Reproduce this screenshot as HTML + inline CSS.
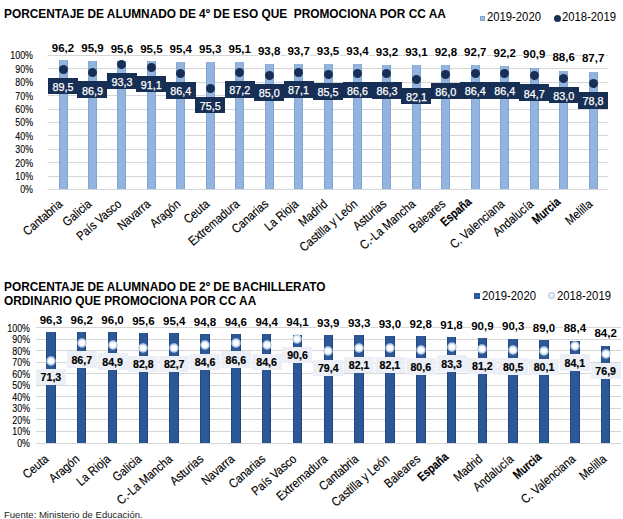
<!DOCTYPE html>
<html><head><meta charset="utf-8">
<style>
html,body{margin:0;padding:0;background:#fff;}
body{width:623px;height:519px;position:relative;overflow:hidden;font-family:"Liberation Sans",sans-serif;}
body div{position:absolute;}
.t{white-space:nowrap;}
.xl{font-size:12.6px;color:#000;-webkit-text-stroke:0.15px #000;text-align:right;transform-origin:100% 50%;transform:rotate(-41deg) scaleX(0.87);}
.ttl{font-weight:bold;font-size:12.6px;color:#000;white-space:nowrap;transform-origin:0 0;}
.leg{font-size:12px;color:#000;white-space:nowrap;transform-origin:0 50%;transform:scaleX(0.94);}
</style></head><body>
<div class="ttl" style="left:3.5px;top:7px;line-height:14px;transform:scaleX(0.942)">PORCENTAJE DE ALUMNADO DE 4º DE ESO QUE&nbsp; PROMOCIONA POR CC AA</div>
<div style="left:480.4px;top:15.5px;width:5px;height:5px;background:#9dbbe0;box-shadow:inset 0 0 0 0.8px #7e9fca"></div>
<div class="leg" style="left:487px;top:10px;line-height:14px">2019-2020</div>
<div style="left:553.7px;top:14.5px;width:7px;height:7px;border-radius:50%;background:#182f55"></div>
<div class="leg" style="left:562px;top:10px;line-height:14px">2018-2019</div>
<div class="ttl" style="left:3.5px;top:279.8px;line-height:14.5px;transform:scaleX(0.942)">PORCENTAJE DE ALUMNADO DE 2º DE BACHILLERATO<br>ORDINARIO QUE PROMOCIONA POR CC AA</div>
<div style="left:473.6px;top:293px;width:6px;height:6px;background:#2c5897"></div>
<div class="leg" style="left:482px;top:288.5px;line-height:14px">2019-2020</div>
<div style="left:547.6px;top:292.2px;width:7px;height:7px;border-radius:50%;background:#eef3f9;box-shadow:inset 0 0 0 1.3px #bfd0e8"></div>
<div class="leg" style="left:557px;top:288.5px;line-height:14px">2018-2019</div>
<div style="left:48.30px;top:188.90px;width:559.55px;height:1.00px;background:#d6d6d6"></div>
<div class="t" style="left:-27.30px;top:183.40px;width:60px;height:14px;line-height:14px;text-align:right;font-size:10.3px;color:#000;-webkit-text-stroke:0.1px #000;transform-origin:100% 50%;transform:scaleX(0.86)">0%</div>
<div style="left:48.30px;top:175.50px;width:559.55px;height:1.00px;background:#d6d6d6"></div>
<div class="t" style="left:-27.30px;top:170.00px;width:60px;height:14px;line-height:14px;text-align:right;font-size:10.3px;color:#000;-webkit-text-stroke:0.1px #000;transform-origin:100% 50%;transform:scaleX(0.86)">10%</div>
<div style="left:48.30px;top:162.10px;width:559.55px;height:1.00px;background:#d6d6d6"></div>
<div class="t" style="left:-27.30px;top:156.60px;width:60px;height:14px;line-height:14px;text-align:right;font-size:10.3px;color:#000;-webkit-text-stroke:0.1px #000;transform-origin:100% 50%;transform:scaleX(0.86)">20%</div>
<div style="left:48.30px;top:148.70px;width:559.55px;height:1.00px;background:#d6d6d6"></div>
<div class="t" style="left:-27.30px;top:143.20px;width:60px;height:14px;line-height:14px;text-align:right;font-size:10.3px;color:#000;-webkit-text-stroke:0.1px #000;transform-origin:100% 50%;transform:scaleX(0.86)">30%</div>
<div style="left:48.30px;top:135.30px;width:559.55px;height:1.00px;background:#d6d6d6"></div>
<div class="t" style="left:-27.30px;top:129.80px;width:60px;height:14px;line-height:14px;text-align:right;font-size:10.3px;color:#000;-webkit-text-stroke:0.1px #000;transform-origin:100% 50%;transform:scaleX(0.86)">40%</div>
<div style="left:48.30px;top:121.90px;width:559.55px;height:1.00px;background:#d6d6d6"></div>
<div class="t" style="left:-27.30px;top:116.40px;width:60px;height:14px;line-height:14px;text-align:right;font-size:10.3px;color:#000;-webkit-text-stroke:0.1px #000;transform-origin:100% 50%;transform:scaleX(0.86)">50%</div>
<div style="left:48.30px;top:108.50px;width:559.55px;height:1.00px;background:#d6d6d6"></div>
<div class="t" style="left:-27.30px;top:103.00px;width:60px;height:14px;line-height:14px;text-align:right;font-size:10.3px;color:#000;-webkit-text-stroke:0.1px #000;transform-origin:100% 50%;transform:scaleX(0.86)">60%</div>
<div style="left:48.30px;top:95.10px;width:559.55px;height:1.00px;background:#d6d6d6"></div>
<div class="t" style="left:-27.30px;top:89.60px;width:60px;height:14px;line-height:14px;text-align:right;font-size:10.3px;color:#000;-webkit-text-stroke:0.1px #000;transform-origin:100% 50%;transform:scaleX(0.86)">70%</div>
<div style="left:48.30px;top:81.70px;width:559.55px;height:1.00px;background:#d6d6d6"></div>
<div class="t" style="left:-27.30px;top:76.20px;width:60px;height:14px;line-height:14px;text-align:right;font-size:10.3px;color:#000;-webkit-text-stroke:0.1px #000;transform-origin:100% 50%;transform:scaleX(0.86)">80%</div>
<div style="left:48.30px;top:68.30px;width:559.55px;height:1.00px;background:#d6d6d6"></div>
<div class="t" style="left:-27.30px;top:62.80px;width:60px;height:14px;line-height:14px;text-align:right;font-size:10.3px;color:#000;-webkit-text-stroke:0.1px #000;transform-origin:100% 50%;transform:scaleX(0.86)">90%</div>
<div style="left:48.30px;top:54.90px;width:559.55px;height:1.00px;background:#d6d6d6"></div>
<div class="t" style="left:-27.30px;top:49.40px;width:60px;height:14px;line-height:14px;text-align:right;font-size:10.3px;color:#000;-webkit-text-stroke:0.1px #000;transform-origin:100% 50%;transform:scaleX(0.86)">100%</div>
<div style="left:58.52px;top:60.49px;width:9.00px;height:128.91px;background:#93b4de;box-shadow:inset 1px 0 0 #84a6d2,inset -1px 0 0 #84a6d2"></div>
<div style="left:87.97px;top:60.89px;width:9.00px;height:128.51px;background:#93b4de;box-shadow:inset 1px 0 0 #84a6d2,inset -1px 0 0 #84a6d2"></div>
<div style="left:117.42px;top:61.30px;width:9.00px;height:128.10px;background:#93b4de;box-shadow:inset 1px 0 0 #84a6d2,inset -1px 0 0 #84a6d2"></div>
<div style="left:146.88px;top:61.43px;width:9.00px;height:127.97px;background:#93b4de;box-shadow:inset 1px 0 0 #84a6d2,inset -1px 0 0 #84a6d2"></div>
<div style="left:176.32px;top:61.56px;width:9.00px;height:127.84px;background:#93b4de;box-shadow:inset 1px 0 0 #84a6d2,inset -1px 0 0 #84a6d2"></div>
<div style="left:205.77px;top:61.70px;width:9.00px;height:127.70px;background:#93b4de;box-shadow:inset 1px 0 0 #84a6d2,inset -1px 0 0 #84a6d2"></div>
<div style="left:235.22px;top:61.97px;width:9.00px;height:127.43px;background:#93b4de;box-shadow:inset 1px 0 0 #84a6d2,inset -1px 0 0 #84a6d2"></div>
<div style="left:264.68px;top:63.71px;width:9.00px;height:125.69px;background:#93b4de;box-shadow:inset 1px 0 0 #84a6d2,inset -1px 0 0 #84a6d2"></div>
<div style="left:294.12px;top:63.84px;width:9.00px;height:125.56px;background:#93b4de;box-shadow:inset 1px 0 0 #84a6d2,inset -1px 0 0 #84a6d2"></div>
<div style="left:323.57px;top:64.11px;width:9.00px;height:125.29px;background:#93b4de;box-shadow:inset 1px 0 0 #84a6d2,inset -1px 0 0 #84a6d2"></div>
<div style="left:353.02px;top:64.24px;width:9.00px;height:125.16px;background:#93b4de;box-shadow:inset 1px 0 0 #84a6d2,inset -1px 0 0 #84a6d2"></div>
<div style="left:382.48px;top:64.51px;width:9.00px;height:124.89px;background:#93b4de;box-shadow:inset 1px 0 0 #84a6d2,inset -1px 0 0 #84a6d2"></div>
<div style="left:411.93px;top:64.65px;width:9.00px;height:124.75px;background:#93b4de;box-shadow:inset 1px 0 0 #84a6d2,inset -1px 0 0 #84a6d2"></div>
<div style="left:441.38px;top:65.05px;width:9.00px;height:124.35px;background:#93b4de;box-shadow:inset 1px 0 0 #84a6d2,inset -1px 0 0 #84a6d2"></div>
<div style="left:470.82px;top:65.18px;width:9.00px;height:124.22px;background:#93b4de;box-shadow:inset 1px 0 0 #84a6d2,inset -1px 0 0 #84a6d2"></div>
<div style="left:500.27px;top:65.85px;width:9.00px;height:123.55px;background:#93b4de;box-shadow:inset 1px 0 0 #84a6d2,inset -1px 0 0 #84a6d2"></div>
<div style="left:529.73px;top:67.59px;width:9.00px;height:121.81px;background:#93b4de;box-shadow:inset 1px 0 0 #84a6d2,inset -1px 0 0 #84a6d2"></div>
<div style="left:559.17px;top:70.68px;width:9.00px;height:118.72px;background:#93b4de;box-shadow:inset 1px 0 0 #84a6d2,inset -1px 0 0 #84a6d2"></div>
<div style="left:588.62px;top:71.88px;width:9.00px;height:117.52px;background:#93b4de;box-shadow:inset 1px 0 0 #84a6d2,inset -1px 0 0 #84a6d2"></div>
<div style="left:51.52px;top:42.90px;width:23px;height:10px;background:#fff"></div>
<div class="t" style="left:33.02px;top:40.90px;width:60px;height:14px;line-height:14px;text-align:center;font-size:11.5px;font-weight:bold;color:#000">96,2</div>
<div style="left:58.52px;top:64.97px;width:9px;height:9px;border-radius:50%;background:#182f55"></div>
<div style="left:48.02px;top:77.97px;width:30.00px;height:16.50px;background:#182f55"></div>
<div class="t" style="left:33.02px;top:80.07px;width:60px;height:14px;line-height:14px;text-align:center;font-size:10.8px;color:#fff;-webkit-text-stroke:0.25px #fff">89,5</div>
<div style="left:80.97px;top:43.27px;width:23px;height:10px;background:#fff"></div>
<div class="t" style="left:62.47px;top:41.27px;width:60px;height:14px;line-height:14px;text-align:center;font-size:11.5px;font-weight:bold;color:#000">95,9</div>
<div style="left:87.97px;top:68.45px;width:9px;height:9px;border-radius:50%;background:#182f55"></div>
<div style="left:77.47px;top:81.45px;width:30.00px;height:16.50px;background:#182f55"></div>
<div class="t" style="left:62.47px;top:83.55px;width:60px;height:14px;line-height:14px;text-align:center;font-size:10.8px;color:#fff;-webkit-text-stroke:0.25px #fff">86,9</div>
<div style="left:110.42px;top:43.64px;width:23px;height:10px;background:#fff"></div>
<div class="t" style="left:91.92px;top:41.64px;width:60px;height:14px;line-height:14px;text-align:center;font-size:11.5px;font-weight:bold;color:#000">95,6</div>
<div style="left:117.42px;top:59.88px;width:9px;height:9px;border-radius:50%;background:#182f55"></div>
<div style="left:106.92px;top:72.88px;width:30.00px;height:16.50px;background:#182f55"></div>
<div class="t" style="left:91.92px;top:74.98px;width:60px;height:14px;line-height:14px;text-align:center;font-size:10.8px;color:#fff;-webkit-text-stroke:0.25px #fff">93,3</div>
<div style="left:139.88px;top:43.76px;width:23px;height:10px;background:#fff"></div>
<div class="t" style="left:121.38px;top:41.76px;width:60px;height:14px;line-height:14px;text-align:center;font-size:11.5px;font-weight:bold;color:#000">95,5</div>
<div style="left:146.88px;top:62.83px;width:9px;height:9px;border-radius:50%;background:#182f55"></div>
<div style="left:136.38px;top:75.83px;width:30.00px;height:16.50px;background:#182f55"></div>
<div class="t" style="left:121.38px;top:77.93px;width:60px;height:14px;line-height:14px;text-align:center;font-size:10.8px;color:#fff;-webkit-text-stroke:0.25px #fff">91,1</div>
<div style="left:169.32px;top:43.89px;width:23px;height:10px;background:#fff"></div>
<div class="t" style="left:150.82px;top:41.89px;width:60px;height:14px;line-height:14px;text-align:center;font-size:11.5px;font-weight:bold;color:#000">95,4</div>
<div style="left:176.32px;top:69.12px;width:9px;height:9px;border-radius:50%;background:#182f55"></div>
<div style="left:165.82px;top:82.12px;width:30.00px;height:16.50px;background:#182f55"></div>
<div class="t" style="left:150.82px;top:84.22px;width:60px;height:14px;line-height:14px;text-align:center;font-size:10.8px;color:#fff;-webkit-text-stroke:0.25px #fff">86,4</div>
<div style="left:198.77px;top:44.01px;width:23px;height:10px;background:#fff"></div>
<div class="t" style="left:180.27px;top:42.01px;width:60px;height:14px;line-height:14px;text-align:center;font-size:11.5px;font-weight:bold;color:#000">95,3</div>
<div style="left:205.77px;top:83.73px;width:9px;height:9px;border-radius:50%;background:#182f55"></div>
<div style="left:195.27px;top:96.73px;width:30.00px;height:16.50px;background:#182f55"></div>
<div class="t" style="left:180.27px;top:98.83px;width:60px;height:14px;line-height:14px;text-align:center;font-size:10.8px;color:#fff;-webkit-text-stroke:0.25px #fff">75,5</div>
<div style="left:228.22px;top:44.26px;width:23px;height:10px;background:#fff"></div>
<div class="t" style="left:209.72px;top:42.26px;width:60px;height:14px;line-height:14px;text-align:center;font-size:11.5px;font-weight:bold;color:#000">95,1</div>
<div style="left:235.22px;top:68.05px;width:9px;height:9px;border-radius:50%;background:#182f55"></div>
<div style="left:224.72px;top:81.05px;width:30.00px;height:16.50px;background:#182f55"></div>
<div class="t" style="left:209.72px;top:83.15px;width:60px;height:14px;line-height:14px;text-align:center;font-size:10.8px;color:#fff;-webkit-text-stroke:0.25px #fff">87,2</div>
<div style="left:257.68px;top:45.86px;width:23px;height:10px;background:#fff"></div>
<div class="t" style="left:239.18px;top:43.86px;width:60px;height:14px;line-height:14px;text-align:center;font-size:11.5px;font-weight:bold;color:#000">93,8</div>
<div style="left:264.68px;top:71.00px;width:9px;height:9px;border-radius:50%;background:#182f55"></div>
<div style="left:254.18px;top:84.00px;width:30.00px;height:16.50px;background:#182f55"></div>
<div class="t" style="left:239.18px;top:86.10px;width:60px;height:14px;line-height:14px;text-align:center;font-size:10.8px;color:#fff;-webkit-text-stroke:0.25px #fff">85,0</div>
<div style="left:287.12px;top:45.99px;width:23px;height:10px;background:#fff"></div>
<div class="t" style="left:268.62px;top:43.99px;width:60px;height:14px;line-height:14px;text-align:center;font-size:11.5px;font-weight:bold;color:#000">93,7</div>
<div style="left:294.12px;top:68.19px;width:9px;height:9px;border-radius:50%;background:#182f55"></div>
<div style="left:283.62px;top:81.19px;width:30.00px;height:16.50px;background:#182f55"></div>
<div class="t" style="left:268.62px;top:83.29px;width:60px;height:14px;line-height:14px;text-align:center;font-size:10.8px;color:#fff;-webkit-text-stroke:0.25px #fff">87,1</div>
<div style="left:316.57px;top:46.23px;width:23px;height:10px;background:#fff"></div>
<div class="t" style="left:298.07px;top:44.23px;width:60px;height:14px;line-height:14px;text-align:center;font-size:11.5px;font-weight:bold;color:#000">93,5</div>
<div style="left:323.57px;top:70.33px;width:9px;height:9px;border-radius:50%;background:#182f55"></div>
<div style="left:313.07px;top:83.33px;width:30.00px;height:16.50px;background:#182f55"></div>
<div class="t" style="left:298.07px;top:85.43px;width:60px;height:14px;line-height:14px;text-align:center;font-size:10.8px;color:#fff;-webkit-text-stroke:0.25px #fff">85,5</div>
<div style="left:346.02px;top:46.36px;width:23px;height:10px;background:#fff"></div>
<div class="t" style="left:327.52px;top:44.36px;width:60px;height:14px;line-height:14px;text-align:center;font-size:11.5px;font-weight:bold;color:#000">93,4</div>
<div style="left:353.02px;top:68.86px;width:9px;height:9px;border-radius:50%;background:#182f55"></div>
<div style="left:342.52px;top:81.86px;width:30.00px;height:16.50px;background:#182f55"></div>
<div class="t" style="left:327.52px;top:83.96px;width:60px;height:14px;line-height:14px;text-align:center;font-size:10.8px;color:#fff;-webkit-text-stroke:0.25px #fff">86,6</div>
<div style="left:375.48px;top:46.60px;width:23px;height:10px;background:#fff"></div>
<div class="t" style="left:356.98px;top:44.60px;width:60px;height:14px;line-height:14px;text-align:center;font-size:11.5px;font-weight:bold;color:#000">93,2</div>
<div style="left:382.48px;top:69.26px;width:9px;height:9px;border-radius:50%;background:#182f55"></div>
<div style="left:371.98px;top:82.26px;width:30.00px;height:16.50px;background:#182f55"></div>
<div class="t" style="left:356.98px;top:84.36px;width:60px;height:14px;line-height:14px;text-align:center;font-size:10.8px;color:#fff;-webkit-text-stroke:0.25px #fff">86,3</div>
<div style="left:404.93px;top:46.73px;width:23px;height:10px;background:#fff"></div>
<div class="t" style="left:386.43px;top:44.73px;width:60px;height:14px;line-height:14px;text-align:center;font-size:11.5px;font-weight:bold;color:#000">93,1</div>
<div style="left:411.93px;top:74.89px;width:9px;height:9px;border-radius:50%;background:#182f55"></div>
<div style="left:401.43px;top:87.89px;width:30.00px;height:16.50px;background:#182f55"></div>
<div class="t" style="left:386.43px;top:89.99px;width:60px;height:14px;line-height:14px;text-align:center;font-size:10.8px;color:#fff;-webkit-text-stroke:0.25px #fff">82,1</div>
<div style="left:434.38px;top:47.10px;width:23px;height:10px;background:#fff"></div>
<div class="t" style="left:415.88px;top:45.10px;width:60px;height:14px;line-height:14px;text-align:center;font-size:11.5px;font-weight:bold;color:#000">92,8</div>
<div style="left:441.38px;top:69.66px;width:9px;height:9px;border-radius:50%;background:#182f55"></div>
<div style="left:430.88px;top:82.66px;width:30.00px;height:16.50px;background:#182f55"></div>
<div class="t" style="left:415.88px;top:84.76px;width:60px;height:14px;line-height:14px;text-align:center;font-size:10.8px;color:#fff;-webkit-text-stroke:0.25px #fff">86,0</div>
<div style="left:463.82px;top:47.22px;width:23px;height:10px;background:#fff"></div>
<div class="t" style="left:445.32px;top:45.22px;width:60px;height:14px;line-height:14px;text-align:center;font-size:11.5px;font-weight:bold;color:#000">92,7</div>
<div style="left:470.82px;top:69.12px;width:9px;height:9px;border-radius:50%;background:#182f55"></div>
<div style="left:460.32px;top:82.12px;width:30.00px;height:16.50px;background:#182f55"></div>
<div class="t" style="left:445.32px;top:84.22px;width:60px;height:14px;line-height:14px;text-align:center;font-size:10.8px;color:#fff;-webkit-text-stroke:0.25px #fff">86,4</div>
<div style="left:493.27px;top:47.84px;width:23px;height:10px;background:#fff"></div>
<div class="t" style="left:474.77px;top:45.84px;width:60px;height:14px;line-height:14px;text-align:center;font-size:11.5px;font-weight:bold;color:#000">92,2</div>
<div style="left:500.27px;top:69.12px;width:9px;height:9px;border-radius:50%;background:#182f55"></div>
<div style="left:489.77px;top:82.12px;width:30.00px;height:16.50px;background:#182f55"></div>
<div class="t" style="left:474.77px;top:84.22px;width:60px;height:14px;line-height:14px;text-align:center;font-size:10.8px;color:#fff;-webkit-text-stroke:0.25px #fff">86,4</div>
<div style="left:522.73px;top:49.45px;width:23px;height:10px;background:#fff"></div>
<div class="t" style="left:504.23px;top:47.45px;width:60px;height:14px;line-height:14px;text-align:center;font-size:11.5px;font-weight:bold;color:#000">90,9</div>
<div style="left:529.73px;top:71.40px;width:9px;height:9px;border-radius:50%;background:#182f55"></div>
<div style="left:519.23px;top:84.40px;width:30.00px;height:16.50px;background:#182f55"></div>
<div class="t" style="left:504.23px;top:86.50px;width:60px;height:14px;line-height:14px;text-align:center;font-size:10.8px;color:#fff;-webkit-text-stroke:0.25px #fff">84,7</div>
<div style="left:552.17px;top:52.29px;width:23px;height:10px;background:#fff"></div>
<div class="t" style="left:533.67px;top:50.29px;width:60px;height:14px;line-height:14px;text-align:center;font-size:11.5px;font-weight:bold;color:#000">88,6</div>
<div style="left:559.17px;top:73.68px;width:9px;height:9px;border-radius:50%;background:#182f55"></div>
<div style="left:548.67px;top:86.68px;width:30.00px;height:16.50px;background:#182f55"></div>
<div class="t" style="left:533.67px;top:88.78px;width:60px;height:14px;line-height:14px;text-align:center;font-size:10.8px;color:#fff;-webkit-text-stroke:0.25px #fff">83,0</div>
<div style="left:581.62px;top:53.40px;width:23px;height:10px;background:#fff"></div>
<div class="t" style="left:563.12px;top:51.40px;width:60px;height:14px;line-height:14px;text-align:center;font-size:11.5px;font-weight:bold;color:#000">87,7</div>
<div style="left:588.62px;top:79.31px;width:9px;height:9px;border-radius:50%;background:#182f55"></div>
<div style="left:578.12px;top:92.31px;width:30.00px;height:16.50px;background:#182f55"></div>
<div class="t" style="left:563.12px;top:94.41px;width:60px;height:14px;line-height:14px;text-align:center;font-size:10.8px;color:#fff;-webkit-text-stroke:0.25px #fff">78,8</div>
<div class="t xl" style="left:-58.98px;top:195.60px;width:120px;height:13px;line-height:13px;">Cantabria</div>
<div class="t xl" style="left:-29.53px;top:195.60px;width:120px;height:13px;line-height:13px;">Galicia</div>
<div class="t xl" style="left:-0.08px;top:195.60px;width:120px;height:13px;line-height:13px;">País Vasco</div>
<div class="t xl" style="left:29.38px;top:195.60px;width:120px;height:13px;line-height:13px;">Navarra</div>
<div class="t xl" style="left:58.82px;top:195.60px;width:120px;height:13px;line-height:13px;">Aragón</div>
<div class="t xl" style="left:88.27px;top:195.60px;width:120px;height:13px;line-height:13px;">Ceuta</div>
<div class="t xl" style="left:117.72px;top:195.60px;width:120px;height:13px;line-height:13px;">Extremadura</div>
<div class="t xl" style="left:147.18px;top:195.60px;width:120px;height:13px;line-height:13px;">Canarias</div>
<div class="t xl" style="left:176.62px;top:195.60px;width:120px;height:13px;line-height:13px;">La Rioja</div>
<div class="t xl" style="left:206.07px;top:195.60px;width:120px;height:13px;line-height:13px;">Madrid</div>
<div class="t xl" style="left:235.52px;top:195.60px;width:120px;height:13px;line-height:13px;">Castilla y León</div>
<div class="t xl" style="left:264.98px;top:195.60px;width:120px;height:13px;line-height:13px;">Asturias</div>
<div class="t xl" style="left:294.43px;top:195.60px;width:120px;height:13px;line-height:13px;">C.-La Mancha</div>
<div class="t xl" style="left:323.88px;top:195.60px;width:120px;height:13px;line-height:13px;">Baleares</div>
<div class="t xl" style="left:350.32px;top:194.10px;width:120px;height:13px;line-height:13px;font-weight:bold;transform:rotate(-41deg) scaleX(0.81);">España</div>
<div class="t xl" style="left:382.77px;top:195.60px;width:120px;height:13px;line-height:13px;">C. Valenciana</div>
<div class="t xl" style="left:412.23px;top:195.60px;width:120px;height:13px;line-height:13px;">Andalucía</div>
<div class="t xl" style="left:438.67px;top:194.10px;width:120px;height:13px;line-height:13px;font-weight:bold;transform:rotate(-41deg) scaleX(0.81);">Murcia</div>
<div class="t xl" style="left:471.12px;top:195.60px;width:120px;height:13px;line-height:13px;">Melilla</div>
<div style="left:35.50px;top:442.50px;width:585.58px;height:1.00px;background:#d6d6d6"></div>
<div class="t" style="left:-30.50px;top:437.00px;width:60px;height:14px;line-height:14px;text-align:right;font-size:10.3px;color:#000;-webkit-text-stroke:0.1px #000;transform-origin:100% 50%;transform:scaleX(0.86)">0%</div>
<div style="left:35.50px;top:430.97px;width:585.58px;height:1.00px;background:#d6d6d6"></div>
<div class="t" style="left:-30.50px;top:425.47px;width:60px;height:14px;line-height:14px;text-align:right;font-size:10.3px;color:#000;-webkit-text-stroke:0.1px #000;transform-origin:100% 50%;transform:scaleX(0.86)">10%</div>
<div style="left:35.50px;top:419.44px;width:585.58px;height:1.00px;background:#d6d6d6"></div>
<div class="t" style="left:-30.50px;top:413.94px;width:60px;height:14px;line-height:14px;text-align:right;font-size:10.3px;color:#000;-webkit-text-stroke:0.1px #000;transform-origin:100% 50%;transform:scaleX(0.86)">20%</div>
<div style="left:35.50px;top:407.91px;width:585.58px;height:1.00px;background:#d6d6d6"></div>
<div class="t" style="left:-30.50px;top:402.41px;width:60px;height:14px;line-height:14px;text-align:right;font-size:10.3px;color:#000;-webkit-text-stroke:0.1px #000;transform-origin:100% 50%;transform:scaleX(0.86)">30%</div>
<div style="left:35.50px;top:396.38px;width:585.58px;height:1.00px;background:#d6d6d6"></div>
<div class="t" style="left:-30.50px;top:390.88px;width:60px;height:14px;line-height:14px;text-align:right;font-size:10.3px;color:#000;-webkit-text-stroke:0.1px #000;transform-origin:100% 50%;transform:scaleX(0.86)">40%</div>
<div style="left:35.50px;top:384.85px;width:585.58px;height:1.00px;background:#d6d6d6"></div>
<div class="t" style="left:-30.50px;top:379.35px;width:60px;height:14px;line-height:14px;text-align:right;font-size:10.3px;color:#000;-webkit-text-stroke:0.1px #000;transform-origin:100% 50%;transform:scaleX(0.86)">50%</div>
<div style="left:35.50px;top:373.32px;width:585.58px;height:1.00px;background:#d6d6d6"></div>
<div class="t" style="left:-30.50px;top:367.82px;width:60px;height:14px;line-height:14px;text-align:right;font-size:10.3px;color:#000;-webkit-text-stroke:0.1px #000;transform-origin:100% 50%;transform:scaleX(0.86)">60%</div>
<div style="left:35.50px;top:361.79px;width:585.58px;height:1.00px;background:#d6d6d6"></div>
<div class="t" style="left:-30.50px;top:356.29px;width:60px;height:14px;line-height:14px;text-align:right;font-size:10.3px;color:#000;-webkit-text-stroke:0.1px #000;transform-origin:100% 50%;transform:scaleX(0.86)">70%</div>
<div style="left:35.50px;top:350.26px;width:585.58px;height:1.00px;background:#d6d6d6"></div>
<div class="t" style="left:-30.50px;top:344.76px;width:60px;height:14px;line-height:14px;text-align:right;font-size:10.3px;color:#000;-webkit-text-stroke:0.1px #000;transform-origin:100% 50%;transform:scaleX(0.86)">80%</div>
<div style="left:35.50px;top:338.73px;width:585.58px;height:1.00px;background:#d6d6d6"></div>
<div class="t" style="left:-30.50px;top:333.23px;width:60px;height:14px;line-height:14px;text-align:right;font-size:10.3px;color:#000;-webkit-text-stroke:0.1px #000;transform-origin:100% 50%;transform:scaleX(0.86)">90%</div>
<div style="left:35.50px;top:327.20px;width:585.58px;height:1.00px;background:#d6d6d6"></div>
<div class="t" style="left:-30.50px;top:321.70px;width:60px;height:14px;line-height:14px;text-align:right;font-size:10.3px;color:#000;-webkit-text-stroke:0.1px #000;transform-origin:100% 50%;transform:scaleX(0.86)">100%</div>
<div style="left:46.16px;top:331.97px;width:9.50px;height:111.03px;background:#2c5897;box-shadow:inset 1px 0 0 #234b85,inset -1px 0 0 #1f4479"></div>
<div style="left:76.98px;top:332.08px;width:9.50px;height:110.92px;background:#2c5897;box-shadow:inset 1px 0 0 #234b85,inset -1px 0 0 #1f4479"></div>
<div style="left:107.80px;top:332.31px;width:9.50px;height:110.69px;background:#2c5897;box-shadow:inset 1px 0 0 #234b85,inset -1px 0 0 #1f4479"></div>
<div style="left:138.62px;top:332.77px;width:9.50px;height:110.23px;background:#2c5897;box-shadow:inset 1px 0 0 #234b85,inset -1px 0 0 #1f4479"></div>
<div style="left:169.44px;top:333.00px;width:9.50px;height:110.00px;background:#2c5897;box-shadow:inset 1px 0 0 #234b85,inset -1px 0 0 #1f4479"></div>
<div style="left:200.26px;top:333.70px;width:9.50px;height:109.30px;background:#2c5897;box-shadow:inset 1px 0 0 #234b85,inset -1px 0 0 #1f4479"></div>
<div style="left:231.08px;top:333.93px;width:9.50px;height:109.07px;background:#2c5897;box-shadow:inset 1px 0 0 #234b85,inset -1px 0 0 #1f4479"></div>
<div style="left:261.90px;top:334.16px;width:9.50px;height:108.84px;background:#2c5897;box-shadow:inset 1px 0 0 #234b85,inset -1px 0 0 #1f4479"></div>
<div style="left:292.72px;top:334.50px;width:9.50px;height:108.50px;background:#2c5897;box-shadow:inset 1px 0 0 #234b85,inset -1px 0 0 #1f4479"></div>
<div style="left:323.54px;top:334.73px;width:9.50px;height:108.27px;background:#2c5897;box-shadow:inset 1px 0 0 #234b85,inset -1px 0 0 #1f4479"></div>
<div style="left:354.36px;top:335.43px;width:9.50px;height:107.57px;background:#2c5897;box-shadow:inset 1px 0 0 #234b85,inset -1px 0 0 #1f4479"></div>
<div style="left:385.18px;top:335.77px;width:9.50px;height:107.23px;background:#2c5897;box-shadow:inset 1px 0 0 #234b85,inset -1px 0 0 #1f4479"></div>
<div style="left:416.00px;top:336.00px;width:9.50px;height:107.00px;background:#2c5897;box-shadow:inset 1px 0 0 #234b85,inset -1px 0 0 #1f4479"></div>
<div style="left:446.82px;top:337.15px;width:9.50px;height:105.85px;background:#2c5897;box-shadow:inset 1px 0 0 #234b85,inset -1px 0 0 #1f4479"></div>
<div style="left:477.64px;top:338.19px;width:9.50px;height:104.81px;background:#2c5897;box-shadow:inset 1px 0 0 #234b85,inset -1px 0 0 #1f4479"></div>
<div style="left:508.46px;top:338.88px;width:9.50px;height:104.12px;background:#2c5897;box-shadow:inset 1px 0 0 #234b85,inset -1px 0 0 #1f4479"></div>
<div style="left:539.28px;top:340.38px;width:9.50px;height:102.62px;background:#2c5897;box-shadow:inset 1px 0 0 #234b85,inset -1px 0 0 #1f4479"></div>
<div style="left:570.10px;top:341.07px;width:9.50px;height:101.93px;background:#2c5897;box-shadow:inset 1px 0 0 #234b85,inset -1px 0 0 #1f4479"></div>
<div style="left:600.92px;top:345.92px;width:9.50px;height:97.08px;background:#2c5897;box-shadow:inset 1px 0 0 #234b85,inset -1px 0 0 #1f4479"></div>
<div style="left:39.41px;top:315.10px;width:23px;height:10px;background:#fff"></div>
<div class="t" style="left:20.91px;top:313.10px;width:60px;height:14px;line-height:14px;text-align:center;font-size:11.5px;font-weight:bold;color:#000">96,3</div>
<svg style="position:absolute;left:44.91px;top:354.79px" width="12" height="12"><circle cx="6" cy="6" r="3.9" fill="#fdfeff" stroke="#bdd0e8" stroke-width="1.7"/></svg>
<div style="left:35.91px;top:369.09px;width:30.00px;height:16.30px;background:#ecf0f6"></div>
<div class="t" style="left:20.91px;top:370.39px;width:60px;height:14px;line-height:14px;text-align:center;font-size:10.6px;font-weight:bold;color:#000;-webkit-text-stroke:0.2px #000">71,3</div>
<div style="left:70.23px;top:315.21px;width:23px;height:10px;background:#fff"></div>
<div class="t" style="left:51.73px;top:313.21px;width:60px;height:14px;line-height:14px;text-align:center;font-size:11.5px;font-weight:bold;color:#000">96,2</div>
<svg style="position:absolute;left:75.73px;top:337.03px" width="12" height="12"><circle cx="6" cy="6" r="3.9" fill="#fdfeff" stroke="#bdd0e8" stroke-width="1.7"/></svg>
<div style="left:66.73px;top:351.33px;width:30.00px;height:16.30px;background:#ecf0f6"></div>
<div class="t" style="left:51.73px;top:352.63px;width:60px;height:14px;line-height:14px;text-align:center;font-size:10.6px;font-weight:bold;color:#000;-webkit-text-stroke:0.2px #000">86,7</div>
<div style="left:101.05px;top:315.42px;width:23px;height:10px;background:#fff"></div>
<div class="t" style="left:82.55px;top:313.42px;width:60px;height:14px;line-height:14px;text-align:center;font-size:11.5px;font-weight:bold;color:#000">96,0</div>
<svg style="position:absolute;left:106.55px;top:339.11px" width="12" height="12"><circle cx="6" cy="6" r="3.9" fill="#fdfeff" stroke="#bdd0e8" stroke-width="1.7"/></svg>
<div style="left:97.55px;top:353.41px;width:30.00px;height:16.30px;background:#ecf0f6"></div>
<div class="t" style="left:82.55px;top:354.71px;width:60px;height:14px;line-height:14px;text-align:center;font-size:10.6px;font-weight:bold;color:#000;-webkit-text-stroke:0.2px #000">84,9</div>
<div style="left:131.87px;top:315.84px;width:23px;height:10px;background:#fff"></div>
<div class="t" style="left:113.37px;top:313.84px;width:60px;height:14px;line-height:14px;text-align:center;font-size:11.5px;font-weight:bold;color:#000">95,6</div>
<svg style="position:absolute;left:137.37px;top:341.53px" width="12" height="12"><circle cx="6" cy="6" r="3.9" fill="#fdfeff" stroke="#bdd0e8" stroke-width="1.7"/></svg>
<div style="left:128.37px;top:355.83px;width:30.00px;height:16.30px;background:#ecf0f6"></div>
<div class="t" style="left:113.37px;top:357.13px;width:60px;height:14px;line-height:14px;text-align:center;font-size:10.6px;font-weight:bold;color:#000;-webkit-text-stroke:0.2px #000">82,8</div>
<div style="left:162.69px;top:316.05px;width:23px;height:10px;background:#fff"></div>
<div class="t" style="left:144.19px;top:314.05px;width:60px;height:14px;line-height:14px;text-align:center;font-size:11.5px;font-weight:bold;color:#000">95,4</div>
<svg style="position:absolute;left:168.19px;top:341.65px" width="12" height="12"><circle cx="6" cy="6" r="3.9" fill="#fdfeff" stroke="#bdd0e8" stroke-width="1.7"/></svg>
<div style="left:159.19px;top:355.95px;width:30.00px;height:16.30px;background:#ecf0f6"></div>
<div class="t" style="left:144.19px;top:357.25px;width:60px;height:14px;line-height:14px;text-align:center;font-size:10.6px;font-weight:bold;color:#000;-webkit-text-stroke:0.2px #000">82,7</div>
<div style="left:193.51px;top:316.68px;width:23px;height:10px;background:#fff"></div>
<div class="t" style="left:175.01px;top:314.68px;width:60px;height:14px;line-height:14px;text-align:center;font-size:11.5px;font-weight:bold;color:#000">94,8</div>
<svg style="position:absolute;left:199.01px;top:339.46px" width="12" height="12"><circle cx="6" cy="6" r="3.9" fill="#fdfeff" stroke="#bdd0e8" stroke-width="1.7"/></svg>
<div style="left:190.01px;top:353.76px;width:30.00px;height:16.30px;background:#ecf0f6"></div>
<div class="t" style="left:175.01px;top:355.06px;width:60px;height:14px;line-height:14px;text-align:center;font-size:10.6px;font-weight:bold;color:#000;-webkit-text-stroke:0.2px #000">84,6</div>
<div style="left:224.33px;top:316.89px;width:23px;height:10px;background:#fff"></div>
<div class="t" style="left:205.83px;top:314.89px;width:60px;height:14px;line-height:14px;text-align:center;font-size:11.5px;font-weight:bold;color:#000">94,6</div>
<svg style="position:absolute;left:229.83px;top:337.15px" width="12" height="12"><circle cx="6" cy="6" r="3.9" fill="#fdfeff" stroke="#bdd0e8" stroke-width="1.7"/></svg>
<div style="left:220.83px;top:351.45px;width:30.00px;height:16.30px;background:#ecf0f6"></div>
<div class="t" style="left:205.83px;top:352.75px;width:60px;height:14px;line-height:14px;text-align:center;font-size:10.6px;font-weight:bold;color:#000;-webkit-text-stroke:0.2px #000">86,6</div>
<div style="left:255.15px;top:317.10px;width:23px;height:10px;background:#fff"></div>
<div class="t" style="left:236.65px;top:315.10px;width:60px;height:14px;line-height:14px;text-align:center;font-size:11.5px;font-weight:bold;color:#000">94,4</div>
<svg style="position:absolute;left:260.65px;top:339.46px" width="12" height="12"><circle cx="6" cy="6" r="3.9" fill="#fdfeff" stroke="#bdd0e8" stroke-width="1.7"/></svg>
<div style="left:251.65px;top:353.76px;width:30.00px;height:16.30px;background:#ecf0f6"></div>
<div class="t" style="left:236.65px;top:355.06px;width:60px;height:14px;line-height:14px;text-align:center;font-size:10.6px;font-weight:bold;color:#000;-webkit-text-stroke:0.2px #000">84,6</div>
<div style="left:285.97px;top:317.41px;width:23px;height:10px;background:#fff"></div>
<div class="t" style="left:267.47px;top:315.41px;width:60px;height:14px;line-height:14px;text-align:center;font-size:11.5px;font-weight:bold;color:#000">94,1</div>
<svg style="position:absolute;left:291.47px;top:332.54px" width="12" height="12"><circle cx="6" cy="6" r="3.9" fill="#fdfeff" stroke="#bdd0e8" stroke-width="1.7"/></svg>
<div style="left:282.47px;top:346.84px;width:30.00px;height:16.30px;background:#ecf0f6"></div>
<div class="t" style="left:267.47px;top:348.14px;width:60px;height:14px;line-height:14px;text-align:center;font-size:10.6px;font-weight:bold;color:#000;-webkit-text-stroke:0.2px #000">90,6</div>
<div style="left:316.79px;top:317.62px;width:23px;height:10px;background:#fff"></div>
<div class="t" style="left:298.29px;top:315.62px;width:60px;height:14px;line-height:14px;text-align:center;font-size:11.5px;font-weight:bold;color:#000">93,9</div>
<svg style="position:absolute;left:322.29px;top:345.45px" width="12" height="12"><circle cx="6" cy="6" r="3.9" fill="#fdfeff" stroke="#bdd0e8" stroke-width="1.7"/></svg>
<div style="left:313.29px;top:359.75px;width:30.00px;height:16.30px;background:#ecf0f6"></div>
<div class="t" style="left:298.29px;top:361.05px;width:60px;height:14px;line-height:14px;text-align:center;font-size:10.6px;font-weight:bold;color:#000;-webkit-text-stroke:0.2px #000">79,4</div>
<div style="left:347.61px;top:318.25px;width:23px;height:10px;background:#fff"></div>
<div class="t" style="left:329.11px;top:316.25px;width:60px;height:14px;line-height:14px;text-align:center;font-size:11.5px;font-weight:bold;color:#000">93,3</div>
<svg style="position:absolute;left:353.11px;top:342.34px" width="12" height="12"><circle cx="6" cy="6" r="3.9" fill="#fdfeff" stroke="#bdd0e8" stroke-width="1.7"/></svg>
<div style="left:344.11px;top:356.64px;width:30.00px;height:16.30px;background:#ecf0f6"></div>
<div class="t" style="left:329.11px;top:357.94px;width:60px;height:14px;line-height:14px;text-align:center;font-size:10.6px;font-weight:bold;color:#000;-webkit-text-stroke:0.2px #000">82,1</div>
<div style="left:378.43px;top:318.56px;width:23px;height:10px;background:#fff"></div>
<div class="t" style="left:359.93px;top:316.56px;width:60px;height:14px;line-height:14px;text-align:center;font-size:11.5px;font-weight:bold;color:#000">93,0</div>
<svg style="position:absolute;left:383.93px;top:342.34px" width="12" height="12"><circle cx="6" cy="6" r="3.9" fill="#fdfeff" stroke="#bdd0e8" stroke-width="1.7"/></svg>
<div style="left:374.93px;top:356.64px;width:30.00px;height:16.30px;background:#ecf0f6"></div>
<div class="t" style="left:359.93px;top:357.94px;width:60px;height:14px;line-height:14px;text-align:center;font-size:10.6px;font-weight:bold;color:#000;-webkit-text-stroke:0.2px #000">82,1</div>
<div style="left:409.25px;top:318.78px;width:23px;height:10px;background:#fff"></div>
<div class="t" style="left:390.75px;top:316.78px;width:60px;height:14px;line-height:14px;text-align:center;font-size:11.5px;font-weight:bold;color:#000">92,8</div>
<svg style="position:absolute;left:414.75px;top:344.07px" width="12" height="12"><circle cx="6" cy="6" r="3.9" fill="#fdfeff" stroke="#bdd0e8" stroke-width="1.7"/></svg>
<div style="left:405.75px;top:358.37px;width:30.00px;height:16.30px;background:#ecf0f6"></div>
<div class="t" style="left:390.75px;top:359.67px;width:60px;height:14px;line-height:14px;text-align:center;font-size:10.6px;font-weight:bold;color:#000;-webkit-text-stroke:0.2px #000">80,6</div>
<div style="left:440.07px;top:319.83px;width:23px;height:10px;background:#fff"></div>
<div class="t" style="left:421.57px;top:317.83px;width:60px;height:14px;line-height:14px;text-align:center;font-size:11.5px;font-weight:bold;color:#000">91,8</div>
<svg style="position:absolute;left:445.57px;top:340.96px" width="12" height="12"><circle cx="6" cy="6" r="3.9" fill="#fdfeff" stroke="#bdd0e8" stroke-width="1.7"/></svg>
<div style="left:436.57px;top:355.26px;width:30.00px;height:16.30px;background:#ecf0f6"></div>
<div class="t" style="left:421.57px;top:356.56px;width:60px;height:14px;line-height:14px;text-align:center;font-size:10.6px;font-weight:bold;color:#000;-webkit-text-stroke:0.2px #000">83,3</div>
<div style="left:470.89px;top:320.77px;width:23px;height:10px;background:#fff"></div>
<div class="t" style="left:452.39px;top:318.77px;width:60px;height:14px;line-height:14px;text-align:center;font-size:11.5px;font-weight:bold;color:#000">90,9</div>
<svg style="position:absolute;left:476.39px;top:343.38px" width="12" height="12"><circle cx="6" cy="6" r="3.9" fill="#fdfeff" stroke="#bdd0e8" stroke-width="1.7"/></svg>
<div style="left:467.39px;top:357.68px;width:30.00px;height:16.30px;background:#ecf0f6"></div>
<div class="t" style="left:452.39px;top:358.98px;width:60px;height:14px;line-height:14px;text-align:center;font-size:10.6px;font-weight:bold;color:#000;-webkit-text-stroke:0.2px #000">81,2</div>
<div style="left:501.71px;top:321.40px;width:23px;height:10px;background:#fff"></div>
<div class="t" style="left:483.21px;top:319.40px;width:60px;height:14px;line-height:14px;text-align:center;font-size:11.5px;font-weight:bold;color:#000">90,3</div>
<svg style="position:absolute;left:507.21px;top:344.18px" width="12" height="12"><circle cx="6" cy="6" r="3.9" fill="#fdfeff" stroke="#bdd0e8" stroke-width="1.7"/></svg>
<div style="left:498.21px;top:358.48px;width:30.00px;height:16.30px;background:#ecf0f6"></div>
<div class="t" style="left:483.21px;top:359.78px;width:60px;height:14px;line-height:14px;text-align:center;font-size:10.6px;font-weight:bold;color:#000;-webkit-text-stroke:0.2px #000">80,5</div>
<div style="left:532.53px;top:322.77px;width:23px;height:10px;background:#fff"></div>
<div class="t" style="left:514.03px;top:320.77px;width:60px;height:14px;line-height:14px;text-align:center;font-size:11.5px;font-weight:bold;color:#000">89,0</div>
<svg style="position:absolute;left:538.03px;top:344.64px" width="12" height="12"><circle cx="6" cy="6" r="3.9" fill="#fdfeff" stroke="#bdd0e8" stroke-width="1.7"/></svg>
<div style="left:529.03px;top:358.94px;width:30.00px;height:16.30px;background:#ecf0f6"></div>
<div class="t" style="left:514.03px;top:360.24px;width:60px;height:14px;line-height:14px;text-align:center;font-size:10.6px;font-weight:bold;color:#000;-webkit-text-stroke:0.2px #000">80,1</div>
<div style="left:563.35px;top:323.40px;width:23px;height:10px;background:#fff"></div>
<div class="t" style="left:544.85px;top:321.40px;width:60px;height:14px;line-height:14px;text-align:center;font-size:11.5px;font-weight:bold;color:#000">88,4</div>
<svg style="position:absolute;left:568.85px;top:340.03px" width="12" height="12"><circle cx="6" cy="6" r="3.9" fill="#fdfeff" stroke="#bdd0e8" stroke-width="1.7"/></svg>
<div style="left:559.85px;top:354.33px;width:30.00px;height:16.30px;background:#ecf0f6"></div>
<div class="t" style="left:544.85px;top:355.63px;width:60px;height:14px;line-height:14px;text-align:center;font-size:10.6px;font-weight:bold;color:#000;-webkit-text-stroke:0.2px #000">84,1</div>
<div style="left:594.17px;top:327.81px;width:23px;height:10px;background:#fff"></div>
<div class="t" style="left:575.67px;top:325.81px;width:60px;height:14px;line-height:14px;text-align:center;font-size:11.5px;font-weight:bold;color:#000">84,2</div>
<svg style="position:absolute;left:599.67px;top:348.33px" width="12" height="12"><circle cx="6" cy="6" r="3.9" fill="#fdfeff" stroke="#bdd0e8" stroke-width="1.7"/></svg>
<div style="left:590.67px;top:362.63px;width:30.00px;height:16.30px;background:#ecf0f6"></div>
<div class="t" style="left:575.67px;top:363.93px;width:60px;height:14px;line-height:14px;text-align:center;font-size:10.6px;font-weight:bold;color:#000;-webkit-text-stroke:0.2px #000">76,9</div>
<div class="t xl" style="left:-72.89px;top:450.50px;width:120px;height:13px;line-height:13px;">Ceuta</div>
<div class="t xl" style="left:-41.91px;top:450.50px;width:120px;height:13px;line-height:13px;">Aragón</div>
<div class="t xl" style="left:-10.94px;top:450.50px;width:120px;height:13px;line-height:13px;">La Rioja</div>
<div class="t xl" style="left:20.04px;top:450.50px;width:120px;height:13px;line-height:13px;">Galicia</div>
<div class="t xl" style="left:51.01px;top:450.50px;width:120px;height:13px;line-height:13px;">C.-La Mancha</div>
<div class="t xl" style="left:81.99px;top:450.50px;width:120px;height:13px;line-height:13px;">Asturias</div>
<div class="t xl" style="left:112.96px;top:450.50px;width:120px;height:13px;line-height:13px;">Navarra</div>
<div class="t xl" style="left:143.93px;top:450.50px;width:120px;height:13px;line-height:13px;">Canarias</div>
<div class="t xl" style="left:174.91px;top:450.50px;width:120px;height:13px;line-height:13px;">País Vasco</div>
<div class="t xl" style="left:205.88px;top:450.50px;width:120px;height:13px;line-height:13px;">Extremadura</div>
<div class="t xl" style="left:236.86px;top:450.50px;width:120px;height:13px;line-height:13px;">Cantabria</div>
<div class="t xl" style="left:267.83px;top:450.50px;width:120px;height:13px;line-height:13px;">Castilla y León</div>
<div class="t xl" style="left:298.80px;top:450.50px;width:120px;height:13px;line-height:13px;">Baleares</div>
<div class="t xl" style="left:326.78px;top:449.00px;width:120px;height:13px;line-height:13px;font-weight:bold;transform:rotate(-41deg) scaleX(0.81);">España</div>
<div class="t xl" style="left:360.75px;top:450.50px;width:120px;height:13px;line-height:13px;">Madrid</div>
<div class="t xl" style="left:391.73px;top:450.50px;width:120px;height:13px;line-height:13px;">Andalucía</div>
<div class="t xl" style="left:419.70px;top:449.00px;width:120px;height:13px;line-height:13px;font-weight:bold;transform:rotate(-41deg) scaleX(0.81);">Murcia</div>
<div class="t xl" style="left:453.67px;top:450.50px;width:120px;height:13px;line-height:13px;">C. Valenciana</div>
<div class="t xl" style="left:484.65px;top:450.50px;width:120px;height:13px;line-height:13px;">Melilla</div>
<div class="t" style="left:3.6px;top:508.7px;font-size:8.5px;line-height:12px;color:#222;transform-origin:0 0;transform:scaleX(1.12)">Fuente: Ministerio de Educación.</div>
</body></html>
